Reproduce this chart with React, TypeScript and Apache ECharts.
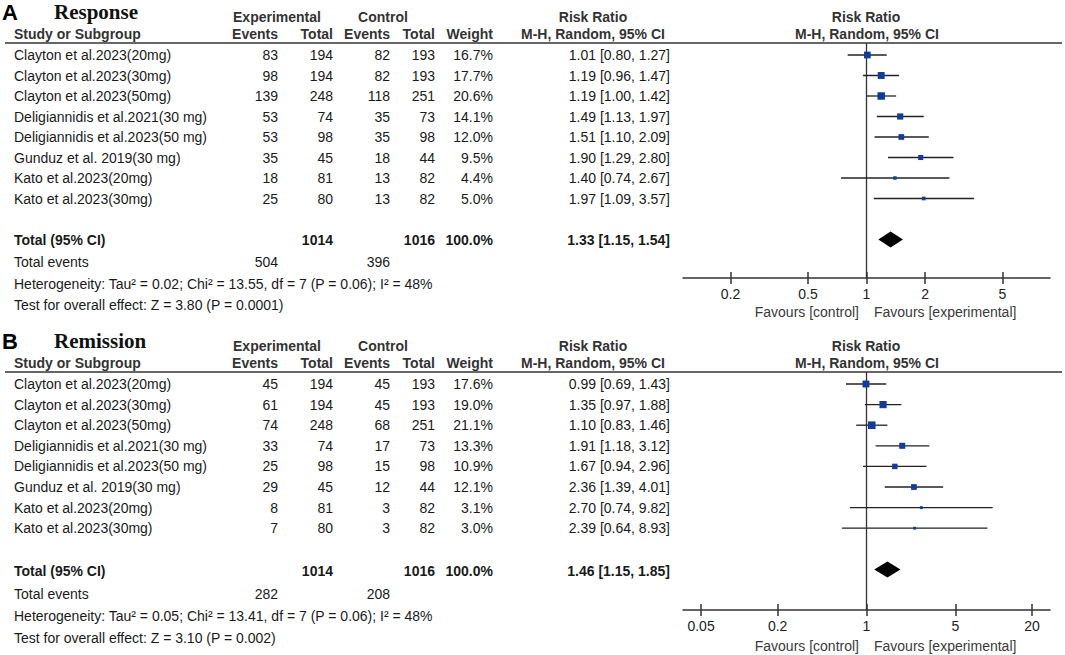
import React, { useEffect, useRef } from 'react';
import * as echarts from 'echarts';

// ---------- DATA ----------
const studies = [
  'Clayton et al.2023(20mg)',
  'Clayton et al.2023(30mg)',
  'Clayton et al.2023(50mg)',
  'Deligiannidis et al.2021(30 mg)',
  'Deligiannidis et al.2023(50 mg)',
  'Gunduz et al. 2019(30 mg)',
  'Kato et al.2023(20mg)',
  'Kato et al.2023(30mg)',
];
const expTotals = [194, 194, 248, 74, 98, 45, 81, 80];
const ctlTotals = [193, 193, 251, 73, 98, 44, 82, 82];

// Panel A: Response
const respExpEvents = [83, 98, 139, 53, 53, 35, 18, 25];
const respCtlEvents = [82, 82, 118, 35, 35, 18, 13, 13];
const respWeights = [16.7, 17.7, 20.6, 14.1, 12.0, 9.5, 4.4, 5.0];
const respRR = [1.01, 1.19, 1.19, 1.49, 1.51, 1.9, 1.4, 1.97];
const respLo = [0.8, 0.96, 1.0, 1.13, 1.1, 1.29, 0.74, 1.09];
const respHi = [1.27, 1.47, 1.42, 1.97, 2.09, 2.8, 2.67, 3.57];
const respTotal = [1.33, 1.15, 1.54];
const respTotalEvents = [504, 396];
const respHet = 'Heterogeneity: Tau² = 0.02; Chi² = 13.55, df = 7 (P = 0.06); I² = 48%';
const respTest = 'Test for overall effect: Z = 3.80 (P = 0.0001)';

// Panel B: Remission
const remExpEvents = [45, 61, 74, 33, 25, 29, 8, 7];
const remCtlEvents = [45, 45, 68, 17, 15, 12, 3, 3];
const remWeights = [17.6, 19.0, 21.1, 13.3, 10.9, 12.1, 3.1, 3.0];
const remRR = [0.99, 1.35, 1.1, 1.91, 1.67, 2.36, 2.7, 2.39];
const remLo = [0.69, 0.97, 0.83, 1.18, 0.94, 1.39, 0.74, 0.64];
const remHi = [1.43, 1.88, 1.46, 3.12, 2.96, 4.01, 9.82, 8.93];
const remTotal = [1.46, 1.15, 1.85];
const remTotalEvents = [282, 208];
const remHet = 'Heterogeneity: Tau² = 0.05; Chi² = 13.41, df = 7 (P = 0.06); I² = 48%';
const remTest = 'Test for overall effect: Z = 3.10 (P = 0.002)';

const grandTotals = [1014, 1016];

const tickValuesA = [0.2, 0.5, 1, 2, 5];
const tickLabelsA = ['0.2', '0.5', '1', '2', '5'];
const tickValuesB = [0.05, 0.2, 1, 5, 20];
const tickLabelsB = ['0.05', '0.2', '1', '5', '20'];

// ---------- LAYOUT ----------
const SANS = "'Liberation Sans', Arial, Helvetica, sans-serif";
const SERIF = "'Liberation Serif', 'Times New Roman', serif";
const FS = 14;

const panels = [
  {
    letter: 'A', title: 'Response',
    expEvents: respExpEvents, ctlEvents: respCtlEvents, weights: respWeights,
    rr: respRR, lo: respLo, hi: respHi, total: respTotal, totalEvents: respTotalEvents,
    het: respHet, test: respTest, ticks: tickValuesA, tickLabels: tickLabelsA,
    range: 0.9436,
    L: { titleY: 12, h1: 17, h2: 34, lineY: 43, row0: 55, step: 20.5, totalY: 240, eventsY: 262, hetY: 284, testY: 305, axisY: 278, favY: 312 },
  },
  {
    letter: 'B', title: 'Remission',
    expEvents: remExpEvents, ctlEvents: remCtlEvents, weights: remWeights,
    rr: remRR, lo: remLo, hi: remHi, total: remTotal, totalEvents: remTotalEvents,
    het: remHet, test: remTest, ticks: tickValuesB, tickLabels: tickLabelsB,
    range: 1.443,
    L: { titleY: 341, h1: 346, h2: 363, lineY: 372, row0: 384, step: 20.6, totalY: 571, eventsY: 594, hetY: 616, testY: 638, axisY: 610, favY: 646 },
  },
];

const COL = { name: 14, expEv: 278, expTot: 333, ctlEv: 390, ctlTot: 435, weight: 493, rr: 670, rrCenter: 593, plotCenter: 867 };
const PLOT_LEFT = 683;
const PLOT_RIGHT = 15;

function txt(text: string, x: number, y: number, opt: any = {}) {
  const align = opt.align || 'left';
  return {
    type: 'text',
    silent: true,
    style: {
      text,
      x,
      y,
      font: `${opt.bold ? 'bold ' : ''}${opt.size || FS}px ${opt.family || SANS}`,
      fill: opt.color || '#1a1a1a',
      align,
      textAlign: align,
      verticalAlign: 'middle',
      textVerticalAlign: 'middle',
    },
  };
}

function buildOption() {
  const graphic: any[] = [];
  const grid: any[] = [];
  const xAxis: any[] = [];
  const yAxis: any[] = [];
  const series: any[] = [];

  panels.forEach((p, pi) => {
    const L = p.L;
    // titles
    graphic.push(txt(p.letter, 2, L.titleY, { bold: true, size: 22, color: '#000' }));
    graphic.push(txt(p.title, 54, L.titleY, { bold: true, size: 21, family: SERIF, color: '#111' }));
    // header row 1
    const hc = '#333';
    graphic.push(txt('Experimental', 277, L.h1, { bold: true, align: 'center', color: hc }));
    graphic.push(txt('Control', 383, L.h1, { bold: true, align: 'center', color: hc }));
    graphic.push(txt('Risk Ratio', COL.rrCenter, L.h1, { bold: true, align: 'center', color: hc }));
    graphic.push(txt('Risk Ratio', 866, L.h1, { bold: true, align: 'center', color: hc }));
    // header row 2
    graphic.push(txt('Study or Subgroup', COL.name, L.h2, { bold: true, color: hc }));
    graphic.push(txt('Events', COL.expEv, L.h2, { bold: true, align: 'right', color: hc }));
    graphic.push(txt('Total', COL.expTot, L.h2, { bold: true, align: 'right', color: hc }));
    graphic.push(txt('Events', COL.ctlEv, L.h2, { bold: true, align: 'right', color: hc }));
    graphic.push(txt('Total', COL.ctlTot, L.h2, { bold: true, align: 'right', color: hc }));
    graphic.push(txt('Weight', COL.weight, L.h2, { bold: true, align: 'right', color: hc }));
    graphic.push(txt('M-H, Random, 95% CI', COL.rrCenter, L.h2, { bold: true, align: 'center', color: hc }));
    graphic.push(txt('M-H, Random, 95% CI', 867, L.h2, { bold: true, align: 'center', color: hc }));
    // header line
    graphic.push({
      type: 'line', silent: true,
      shape: { x1: 5, y1: L.lineY, x2: 1062, y2: L.lineY },
      style: { stroke: '#333', lineWidth: 1.5 },
    });
    // study rows
    studies.forEach((s, i) => {
      const y = L.row0 + i * L.step;
      graphic.push(txt(s, COL.name, y));
      graphic.push(txt(String(p.expEvents[i]), COL.expEv, y, { align: 'right' }));
      graphic.push(txt(String(expTotals[i]), COL.expTot, y, { align: 'right' }));
      graphic.push(txt(String(p.ctlEvents[i]), COL.ctlEv, y, { align: 'right' }));
      graphic.push(txt(String(ctlTotals[i]), COL.ctlTot, y, { align: 'right' }));
      graphic.push(txt(p.weights[i].toFixed(1) + '%', COL.weight, y, { align: 'right' }));
      graphic.push(txt(`${p.rr[i].toFixed(2)} [${p.lo[i].toFixed(2)}, ${p.hi[i].toFixed(2)}]`, COL.rr, y, { align: 'right' }));
    });
    // totals
    graphic.push(txt('Total (95% CI)', COL.name, L.totalY, { bold: true }));
    graphic.push(txt(String(grandTotals[0]), COL.expTot, L.totalY, { bold: true, align: 'right' }));
    graphic.push(txt(String(grandTotals[1]), COL.ctlTot, L.totalY, { bold: true, align: 'right' }));
    graphic.push(txt('100.0%', COL.weight, L.totalY, { bold: true, align: 'right' }));
    graphic.push(txt(`${p.total[0].toFixed(2)} [${p.total[1].toFixed(2)}, ${p.total[2].toFixed(2)}]`, COL.rr, L.totalY, { bold: true, align: 'right' }));
    graphic.push(txt('Total events', COL.name, L.eventsY));
    graphic.push(txt(String(p.totalEvents[0]), COL.expEv, L.eventsY, { align: 'right' }));
    graphic.push(txt(String(p.totalEvents[1]), COL.ctlEv, L.eventsY, { align: 'right' }));
    graphic.push(txt(p.het, COL.name, L.hetY));
    graphic.push(txt(p.test, COL.name, L.testY));
    // favours
    graphic.push(txt('Favours [control]', 859, L.favY, { align: 'right', color: '#3a3a3a' }));
    graphic.push(txt('Favours [experimental]', 874, L.favY, { color: '#3a3a3a' }));

    // ----- plot -----
    const yMin = (L.lineY - L.row0) / L.step;
    const yMax = (L.axisY - L.row0) / L.step;
    grid.push({ left: PLOT_LEFT, right: PLOT_RIGHT, top: L.lineY, height: L.axisY - L.lineY });
    const tickLog = p.ticks.map((v) => Math.log10(v));
    const fmt = (v: number) => {
      let best = 0;
      tickLog.forEach((t, k) => { if (Math.abs(t - v) < Math.abs(tickLog[best] - v)) best = k; });
      return p.tickLabels[best];
    };
    xAxis.push({
      type: 'value', gridIndex: pi, position: 'bottom', min: -p.range, max: p.range,
      axisLine: { show: true, onZero: false, lineStyle: { color: '#333', width: 1.5 } },
      axisTick: { show: true, customValues: tickLog, length: 6, lineStyle: { color: '#333', width: 1.5 } },
      axisLabel: { show: true, customValues: tickLog, formatter: fmt, margin: 9, fontSize: FS, fontFamily: SANS, color: '#222' },
      splitLine: { show: false },
    });
    xAxis.push({
      type: 'value', gridIndex: pi, position: 'bottom', offset: 0, min: -p.range, max: p.range,
      axisLine: { show: false, onZero: false },
      axisTick: { show: true, inside: true, customValues: tickLog, length: 6, lineStyle: { color: '#333', width: 1.5 } },
      axisLabel: { show: false },
      splitLine: { show: false },
    });
    yAxis.push({ type: 'value', gridIndex: pi, inverse: true, min: yMin, max: yMax, show: false });

    const xIdx = pi * 2;
    // line of no effect
    series.push({
      type: 'custom', xAxisIndex: xIdx, yAxisIndex: pi, silent: true,
      data: [[0, yMin, yMax]],
      renderItem: (params: any, api: any) => {
        const a = api.coord([api.value(0), api.value(1)]);
        const b = api.coord([api.value(0), api.value(2)]);
        return { type: 'line', shape: { x1: a[0], y1: a[1], x2: b[0], y2: b[1] }, style: { stroke: '#333', lineWidth: 1.3 } };
      },
    });
    // studies
    series.push({
      type: 'custom', xAxisIndex: xIdx, yAxisIndex: pi, silent: true,
      encode: { x: [0, 2, 3], y: 1 },
      data: p.rr.map((v, i) => [Math.log10(v), i, Math.log10(p.lo[i]), Math.log10(p.hi[i]), p.weights[i]]),
      renderItem: (params: any, api: any) => {
        const y = api.value(1);
        const c = api.coord([api.value(0), y]);
        const l = api.coord([api.value(2), y]);
        const h = api.coord([api.value(3), y]);
        const s = 1.65 * Math.sqrt(api.value(4));
        return {
          type: 'group',
          children: [
            { type: 'line', shape: { x1: l[0], y1: l[1], x2: h[0], y2: h[1] }, style: { stroke: '#222', lineWidth: 1.3 } },
            { type: 'rect', shape: { x: c[0] - s / 2, y: c[1] - s / 2, width: s, height: s }, style: { fill: '#123c9c' } },
          ],
        };
      },
    });
    // pooled diamond
    series.push({
      type: 'custom', xAxisIndex: xIdx, yAxisIndex: pi, silent: true,
      data: [[Math.log10(p.total[0]), 9, Math.log10(p.total[1]), Math.log10(p.total[2])]],
      renderItem: (params: any, api: any) => {
        const y = api.value(1);
        const c = api.coord([api.value(0), y]);
        const l = api.coord([api.value(2), y]);
        const h = api.coord([api.value(3), y]);
        const hh = 8;
        return {
          type: 'polygon',
          shape: { points: [[l[0], c[1]], [c[0], c[1] - hh], [h[0], c[1]], [c[0], c[1] + hh]] },
          style: { fill: '#000' },
        };
      },
    });
  });

  return { animation: false, backgroundColor: '#fff', grid, xAxis, yAxis, series, graphic };
}

export default function App() {
  const ref = useRef<HTMLDivElement>(null);
  useEffect(() => {
    if (!ref.current) return;
    const chart = echarts.init(ref.current, undefined, { renderer: 'svg' });
    chart.setOption(buildOption() as any);
    return () => chart.dispose();
  }, []);
  return <div ref={ref} style={{ position: 'fixed', left: 0, top: 0, width: 1065, height: 655, background: '#fff' }} />;
}
